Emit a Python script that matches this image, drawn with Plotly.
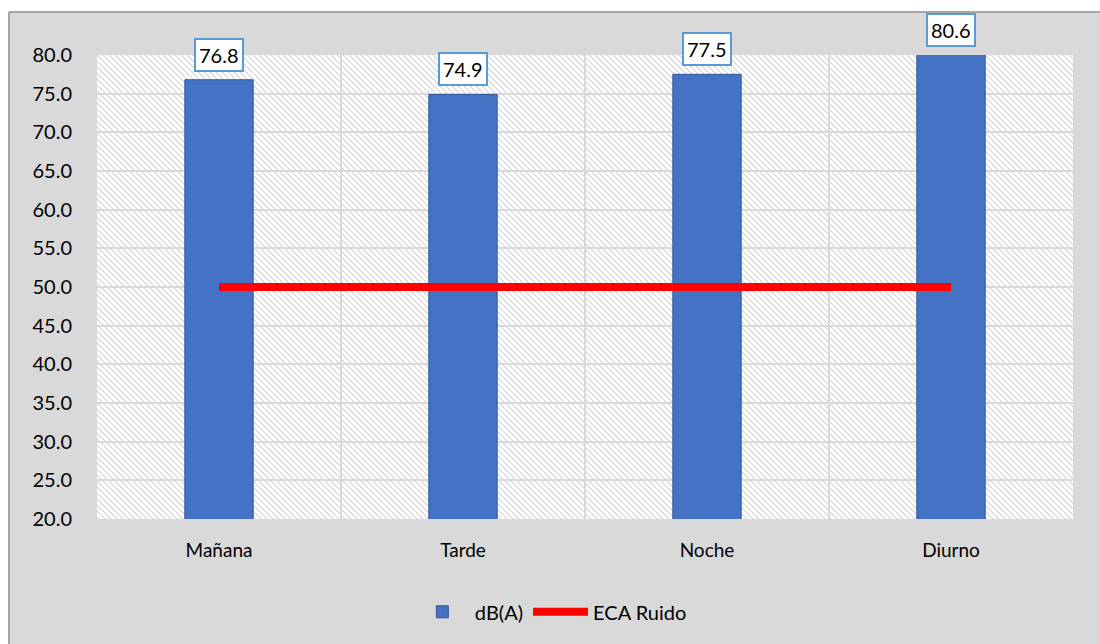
import plotly.graph_objects as go

# Noise levels per period, dB(A)
periods = ["Mañana", "Tarde", "Noche", "Diurno"]
levels_db = [76.8, 74.9, 77.5, 80.6]
# Environmental quality standard (ECA) for noise
eca_limit = [50.0, 50.0, 50.0, 50.0]

y_min, y_max, y_step = 20, 80, 5

FONT = "Lato, 'Open Sans', sans-serif"
GREY_BG = "#d9d9d9"

# Plot-area geometry in pixels (used for the hatched background and frame)
L, R, T, B = 97, 27, 55, 125
W, H = 1100, 644
PW, PH = W - L - R, H - T - B

hatch_svg = (
    "data:image/svg+xml;utf8,"
    f"<svg xmlns='http://www.w3.org/2000/svg' width='{PW}' height='{PH}'>"
    "<defs><pattern id='h' patternUnits='userSpaceOnUse' width='6' height='6'>"
    "<rect width='6' height='6' fill='white'/>"
    "<path d='M-1,-1 L7,7 M-1,5 L1,7 M5,-1 L7,1' stroke='%23d4d4d4' stroke-width='1.2'/>"
    "</pattern></defs>"
    f"<rect width='{PW}' height='{PH}' fill='url(%23h)'/></svg>"
)

fig = go.Figure()

fig.add_trace(go.Bar(
    x=periods,
    y=levels_db,
    name="dB(A)",
    width=0.28,
    marker=dict(color="#4472c4", line=dict(color="#2f5597", width=1)),
    hoverinfo="x+y",
))

fig.add_trace(go.Scatter(
    x=periods,
    y=eca_limit,
    name="ECA Ruido",
    mode="lines",
    line=dict(color="#ff0000", width=8),
))

# Value labels in boxes above each bar (anchored at the visible bar top)
for p, v in zip(periods, levels_db):
    fig.add_annotation(
        x=p, y=min(v, y_max), xref="x", yref="y",
        text=f"{v:.1f}",
        showarrow=False,
        yshift=25,
        yanchor="middle",
        font=dict(family=FONT, size=20, color="black"),
        bgcolor="white",
        bordercolor="#5b9bd5",
        borderwidth=2,
        borderpad=3,
    )

# Frame: white strip at top/left with a grey border line
px = lambda v: (v - L) / PW
py = lambda v: (H - B - v) / PH
fig.add_shape(type="rect", xref="paper", yref="paper",
              x0=px(-5), x1=px(9), y0=py(H + 5), y1=py(-5),
              fillcolor="white", line=dict(width=0))
fig.add_shape(type="rect", xref="paper", yref="paper",
              x0=px(-5), x1=px(W + 5), y0=py(12), y1=py(-5),
              fillcolor="white", line=dict(width=0))
fig.add_shape(type="line", xref="paper", yref="paper",
              x0=px(9), x1=px(9), y0=py(12), y1=py(H + 5),
              line=dict(color="#a6a6a6", width=2))
fig.add_shape(type="line", xref="paper", yref="paper",
              x0=px(9), x1=px(W + 5), y0=py(12), y1=py(12),
              line=dict(color="#a6a6a6", width=2))

fig.add_layout_image(
    source=hatch_svg, xref="paper", yref="paper",
    x=0, y=1, sizex=1, sizey=1, xanchor="left", yanchor="top",
    sizing="stretch", layer="below",
)

fig.update_layout(
    width=W, height=H,
    margin=dict(l=L, r=R, t=T, b=B),
    paper_bgcolor=GREY_BG,
    plot_bgcolor="white",
    font=dict(family=FONT, size=20, color="black"),
    showlegend=True,
    legend=dict(
        orientation="h", x=0.465, xanchor="center", y=-0.2, yanchor="middle",
        font=dict(family=FONT, size=20), bgcolor="rgba(0,0,0,0)",
        itemwidth=55,
    ),
)

fig.update_xaxes(
    type="category",
    tickson="boundaries",
    showgrid=True, gridcolor="#d9d9d9", gridwidth=1.5,
    ticks="", showline=False, zeroline=False,
    tickfont=dict(family=FONT, size=19),
    ticklabelstandoff=18,
)
fig.update_yaxes(
    range=[y_min, y_max], dtick=y_step, tick0=y_min,
    tickformat=".1f",
    showgrid=True, gridcolor="#d9d9d9", gridwidth=1.5,
    ticks="", showline=False, zeroline=False,
    tickfont=dict(family=FONT, size=20),
    ticklabelstandoff=24,
)

fig.write_html("out.html")
